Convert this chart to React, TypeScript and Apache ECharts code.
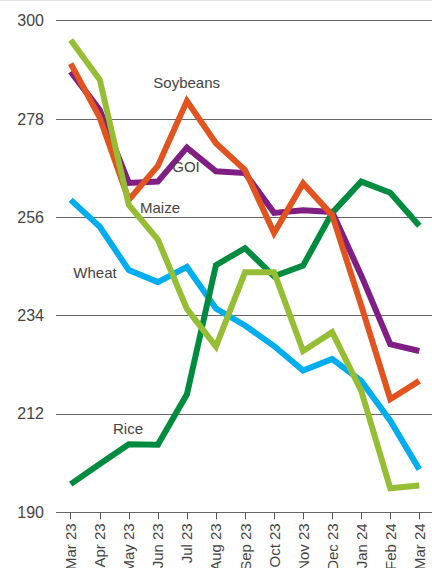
import React, { useEffect, useRef } from "react";
import * as echarts from "echarts";

const categories = ["Mar 23", "Apr 23", "May 23", "Jun 23", "Jul 23", "Aug 23", "Sep 23", "Oct 23", "Nov 23", "Dec 23", "Jan 24", "Feb 24", "Mar 24"];
const goi = [288.6, 280.0, 263.7, 264.0, 271.6, 266.3, 265.9, 257.0, 257.6, 257.2, 243.0, 227.6, 226.1];
const soybeans = [290.4, 278.3, 259.9, 267.5, 282.0, 272.6, 266.6, 252.5, 263.6, 256.5, 236.3, 215.3, 219.4];
const maize = [295.7, 286.8, 258.8, 251.0, 235.5, 227.1, 243.7, 243.7, 226.1, 230.3, 217.2, 195.4, 196.0];
const wheat = [259.9, 253.9, 244.2, 241.5, 244.9, 235.6, 231.8, 227.2, 221.7, 224.3, 219.4, 210.5, 199.6];
const rice = [196.3, 200.8, 205.2, 205.1, 216.4, 245.3, 249.1, 242.8, 245.2, 257.0, 264.0, 261.5, 254.1];
const yMin = 190;
const yMax = 300;
const yStep = 22;

const FONT = "'Liberation Sans', Arial, Helvetica, sans-serif";
const TEXT = "#444";

export default function App() {
  const ref = useRef<HTMLDivElement>(null);
  useEffect(() => {
    document.body.style.margin = "0";
    const chart = echarts.init(ref.current!, null, { renderer: "svg" });
    const mk = (name: string, data: number[], color: string, z: number) => ({
      name,
      type: "line",
      data,
      xAxisIndex: 0,
      yAxisIndex: 0,
      symbol: "none",
      z,
      lineStyle: { color, width: 6, join: "miter", cap: "butt" },
    });
    const lbl = (text: string, x: number, y: number) => ({
      type: "text",
      x,
      y,
      z: 100,
      style: { text, fill: TEXT, font: `15px ${FONT}`, textAlign: "center", textVerticalAlign: "middle" },
    });
    chart.setOption({
      animation: false,
      textStyle: { fontFamily: FONT },
      grid: [
        { left: 70.7, right: 12.7, top: 20.7, bottom: 55.7, containLabel: false, outerBoundsMode: "none" },
        { left: 56, right: 0, top: 20.7, bottom: 55.7, containLabel: false, outerBoundsMode: "none" },
      ],
      xAxis: [
        {
          type: "category",
          gridIndex: 0,
          data: categories,
          boundaryGap: false,
          axisLine: { show: false },
          axisTick: { show: true, alignWithLabel: true, length: 7, lineStyle: { color: "#555", width: 1 } },
          axisLabel: { rotate: 90, fontSize: 15, color: TEXT, margin: 11, fontFamily: FONT, interval: 0 },
        },
        {
          type: "value",
          gridIndex: 1,
          show: false,
          min: 0,
          max: 1,
        },
      ],
      yAxis: [
        { type: "value", gridIndex: 0, min: yMin, max: yMax, interval: yStep, show: false, splitLine: { show: false } },
        {
          type: "value",
          gridIndex: 1,
          min: yMin,
          max: yMax,
          interval: yStep,
          axisLine: { show: false },
          axisTick: { show: false },
          axisLabel: { fontSize: 16, color: TEXT, margin: 12, fontFamily: FONT },
          splitLine: { show: true, lineStyle: { color: "#666", width: 1 } },
        },
      ],
      series: [
        mk("Wheat", wheat, "#00AEEF", 2),
        mk("GOI", goi, "#7F1F84", 3),
        mk("Rice", rice, "#008C3F", 4),
        mk("Soybeans", soybeans, "#E1531F", 5),
        mk("Maize", maize, "#96BE34", 6),
      ],
      graphic: [
        { type: "line", shape: { x1: 0, y1: 0.5, x2: 432, y2: 0.5 }, style: { stroke: "#e2e2e2", lineWidth: 1 } },
        lbl("Soybeans", 186.7, 82.7),
        lbl("GOI", 186, 166.7),
        lbl("Maize", 160, 207),
        lbl("Wheat", 95, 272),
        lbl("Rice", 128, 428),
      ],
    });
    return () => chart.dispose();
  }, []);
  return <div ref={ref} style={{ width: 432, height: 568 }} />;
}
